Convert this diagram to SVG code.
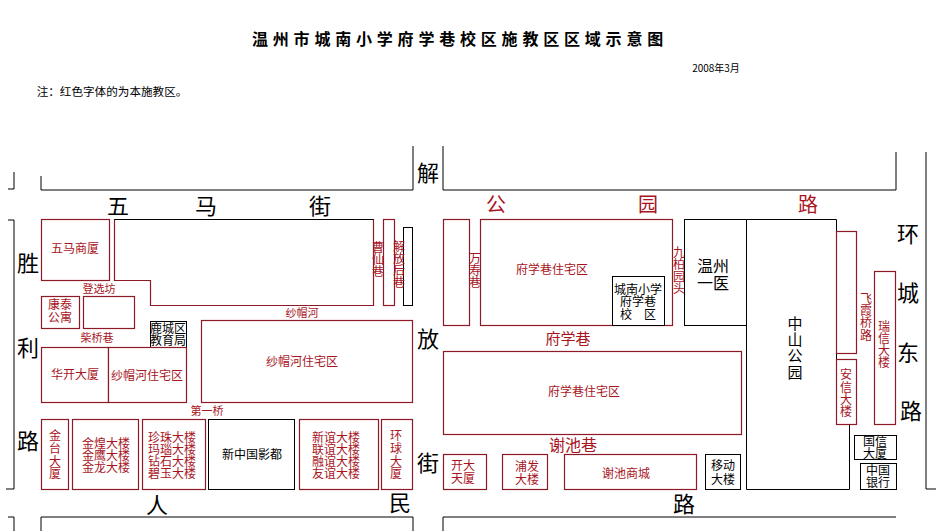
<svg xmlns="http://www.w3.org/2000/svg" width="940" height="531" viewBox="0 0 940 531">
<style>
text{font-family:"Noto Sans CJK SC","Noto Sans",sans-serif;text-anchor:middle;fill:#000}
.r{fill:#a8141e}
.rb{fill:#fff;stroke:#8e1a28;stroke-width:1.2}
.k{fill:#fff;stroke:#000;stroke-width:1}
.l{fill:none;stroke:#000;stroke-width:1}
.big{font-size:22px}
.mid{font-size:20px}
.f11{font-size:11px}
.f12{font-size:12px}
.f15{font-size:15px}
.f16{font-size:16px}
</style>
<rect width="940" height="531" fill="#fff"/>
<g id="title">
<text x="460" y="45" font-size="16" font-weight="700" letter-spacing="4.800">温州市城南小学府学巷校区施教区区域示意图</text>
<text x="716" y="72" font-size="10">2008年3月</text>
<text x="112" y="96" font-size="11.600">注：红色字体的为本施教区。</text>
</g>
<g id="connectors">
<path class="l" d="M8 189H14V172"/>
<path class="l" d="M41 176V190H413V146"/>
<path class="l" d="M8 220H14V489H6"/>
<path class="l" d="M8 517H14V531"/>
<path class="l" d="M41 531V517H413V531"/>
<path class="l" d="M443 146V190H896V152"/>
<path class="l" d="M443 531V517H896"/>
<path class="l" d="M926 152V489H936"/>
</g>
<g id="wuma-shangsha"><rect class="rb" x="41.500" y="219.500" width="68" height="61"/><text class="r f12" x="75" y="253">五马商厦</text></g>
<g id="block-a"><path class="rb" d="M114.500 219.500H373.500V305.500H150.500V280.500H114.500Z"/><path class="l" d="M114.500 219.500H373.500"/></g>
<g id="strip-a"><rect class="rb" x="383.500" y="219.500" width="11" height="86"/></g>
<g id="strip-b"><rect class="k" x="403.500" y="227.500" width="9" height="78"/></g>
<g id="cao-xian-xiang"><text class="r f12" x="378" y="252">曹<tspan x="378" dy="12">仙</tspan><tspan x="378" dy="12">巷</tspan></text></g>
<g id="jiefang-hou-xiang"><text class="r f12" x="399" y="251">解<tspan x="399" dy="12">放</tspan><tspan x="399" dy="12">后</tspan><tspan x="399" dy="12">巷</tspan></text></g>
<g id="dengxuan-fang"><text class="r f11" x="99" y="293">登选坊</text></g>
<g id="kangtai"><rect class="rb" x="41.500" y="296.500" width="38" height="32"/><text class="r f12" x="60" y="309">康泰<tspan x="60" dy="13">公寓</tspan></text></g>
<g id="block-b"><rect class="rb" x="83.500" y="296.500" width="51" height="32"/></g>
<g id="shamao-he"><text class="r f11" x="302" y="317">纱帽河</text></g>
<g id="chaiqiao-xiang"><text class="r f11" x="97" y="342">柴桥巷</text></g>
<g id="lucheng-jiaoyu"><rect class="k" x="150.500" y="321.500" width="36" height="26"/><text class="f12" x="168" y="333">鹿城区<tspan x="168" dy="12">教育局</tspan></text></g>
<g id="shamaohe-zhuzhai-1"><rect class="rb" x="201.500" y="320.500" width="211" height="82"/><text class="r f12" x="302" y="366">纱帽河住宅区</text></g>
<g id="huakai"><rect class="rb" x="41.500" y="347.500" width="67" height="55"/><text class="r f12" x="75" y="379">华开大厦</text></g>
<g id="shamaohe-zhuzhai-2"><rect class="rb" x="108.500" y="347.500" width="78" height="55"/><text class="r f12" x="147" y="380" textLength="72">纱帽河住宅区</text></g>
<g id="diyi-qiao"><text class="r f11" x="207" y="415">第一桥</text></g>
<g id="jintai"><rect class="rb" x="41.500" y="419.500" width="27" height="70"/><text class="r f12" x="55" y="440">金<tspan x="55" dy="13">台</tspan><tspan x="55" dy="13">大</tspan><tspan x="55" dy="12">厦</tspan></text></g>
<g id="jin-group"><rect class="rb" x="72.500" y="419.500" width="66" height="70"/><text class="r f12" x="106" y="448">金煌大楼<tspan x="106" dy="12">金鹰大楼</tspan><tspan x="106" dy="12">金龙大楼</tspan></text></g>
<g id="zhenzhu-group"><rect class="rb" x="142.500" y="419.500" width="63" height="70"/><text class="r f12" x="172" y="442">珍珠大楼<tspan x="172" dy="12">玛瑙大楼</tspan><tspan x="172" dy="12">钻石大楼</tspan><tspan x="172" dy="12">碧玉大楼</tspan></text></g>
<g id="xinzhongguo"><rect class="k" x="208.500" y="419.500" width="86" height="70"/><text class="f12" x="252" y="459">新中国影都</text></g>
<g id="xinyi-group"><rect class="rb" x="299.500" y="419.500" width="79" height="70"/><text class="r f12" x="336" y="442">新谊大楼<tspan x="336" dy="12">联谊大楼</tspan><tspan x="336" dy="12">融谊大楼</tspan><tspan x="336" dy="12">友谊大楼</tspan></text></g>
<g id="huanqiu"><rect class="rb" x="381.500" y="419.500" width="31" height="70"/><text class="r f12" x="396" y="440">环<tspan x="396" dy="13">球</tspan><tspan x="396" dy="13">大</tspan><tspan x="396" dy="12">厦</tspan></text></g>
<g id="wanshou-box"><rect class="rb" x="443.500" y="219.500" width="26" height="106"/></g>
<g id="wanshou-xiang"><text class="r f12" x="475" y="263">万<tspan x="475" dy="12">寿</tspan><tspan x="475" dy="12">巷</tspan></text></g>
<g id="fuxue-zhuzhai-1"><rect class="rb" x="480.500" y="219.500" width="192" height="106"/><text class="r f12" x="552" y="274">府学巷住宅区</text></g>
<g id="school"><rect class="k" x="612.500" y="276.500" width="52" height="49"/><text class="f12" x="638" y="294">城南小学<tspan x="638" dy="12">府学巷</tspan><tspan x="638" dy="13">校　区</tspan></text></g>
<g id="jiubai-yuantou"><text class="r f12" x="679" y="257">九<tspan x="679" dy="12">柏</tspan><tspan x="679" dy="12">园</tspan><tspan x="679" dy="12">头</tspan></text></g>
<g id="wenzhou-yiyi"><rect class="k" x="684.500" y="219.500" width="62" height="106"/><text class="f16" x="713" y="272">温州<tspan x="713" dy="17">一医</tspan></text></g>
<g id="zhongshan"><path class="k" d="M746.500 219.500H836.500V424H849.500V489.500H746.500Z"/><text class="f15" x="795" y="329">中<tspan x="795" dy="16">山</tspan><tspan x="795" dy="16">公</tspan><tspan x="795" dy="17">园</tspan></text></g>
<g id="feixia-box"><rect class="rb" x="836.500" y="231.500" width="20" height="122"/></g>
<g id="feixia-qiaolu"><text class="r f12" x="866" y="303">飞<tspan x="866" dy="12">霞</tspan><tspan x="866" dy="12">桥</tspan><tspan x="866" dy="13">路</tspan></text></g>
<g id="anxin"><rect class="rb" x="836.500" y="359.500" width="20" height="65"/><text class="r f12" x="846" y="379">安<tspan x="846" dy="13">信</tspan><tspan x="846" dy="12">大</tspan><tspan x="846" dy="12">楼</tspan></text></g>
<g id="ruixin"><rect class="rb" x="874.500" y="271.500" width="21" height="153"/><text class="r f12" x="884" y="331">瑞<tspan x="884" dy="12">信</tspan><tspan x="884" dy="12">大</tspan><tspan x="884" dy="12">楼</tspan></text></g>
<g id="guoxin"><rect class="k" x="854.500" y="435.500" width="42" height="24"/><text class="f12" x="875" y="446">国信<tspan x="875" dy="12">大厦</tspan></text></g>
<g id="zhongguo-yinhang"><rect class="k" x="860.500" y="463.500" width="36" height="26"/><text class="f12" x="878" y="475">中国<tspan x="878" dy="12">银行</tspan></text></g>
<g id="fuxue-xiang"><text class="r f15" x="568" y="344">府学巷</text></g>
<g id="fuxue-zhuzhai-2"><rect class="rb" x="443.500" y="351.500" width="298" height="83"/><text class="r f12" x="584" y="396">府学巷住宅区</text></g>
<g id="xiechi-xiang"><text class="r f16" x="573" y="451">谢池巷</text></g>
<g id="kaida"><rect class="rb" x="443.500" y="454.500" width="43" height="35"/><text class="r f12" x="463" y="470">开大<tspan x="463" dy="13">天厦</tspan></text></g>
<g id="pufa"><rect class="rb" x="502.500" y="454.500" width="45" height="35"/><text class="r f12" x="527" y="471">浦发<tspan x="527" dy="13">大楼</tspan></text></g>
<g id="xiechi-shangcheng"><rect class="rb" x="564.500" y="454.500" width="132" height="35"/><text class="r f12" x="626" y="478">谢池商城</text></g>
<g id="yidong"><rect class="k" x="705.500" y="454.500" width="35" height="35"/><text class="f12" x="723" y="470">移动<tspan x="723" dy="14">大楼</tspan></text></g>
<g id="street-labels">
<text class="big" x="118" y="214">五</text><text class="big" x="206" y="214">马</text><text class="big" x="320" y="214">街</text>
<text class="mid r" x="496" y="212">公</text><text class="mid r" x="648" y="212">园</text><text class="mid r" x="808" y="212">路</text>
<text class="big" x="28" y="271">胜</text><text class="big" x="28" y="356">利</text><text class="big" x="28" y="449">路</text>
<text class="big" x="428" y="181">解</text><text class="big" x="428" y="347">放</text><text class="big" x="428" y="471">街</text>
<text class="big" x="157" y="513">人</text><text class="big" x="400" y="511">民</text><text class="big" x="684" y="512">路</text>
<text class="big" x="908" y="242">环</text><text class="big" x="908" y="301">城</text><text class="big" x="908" y="361">东</text><text class="big" x="911" y="419">路</text>
</g>
</svg>
